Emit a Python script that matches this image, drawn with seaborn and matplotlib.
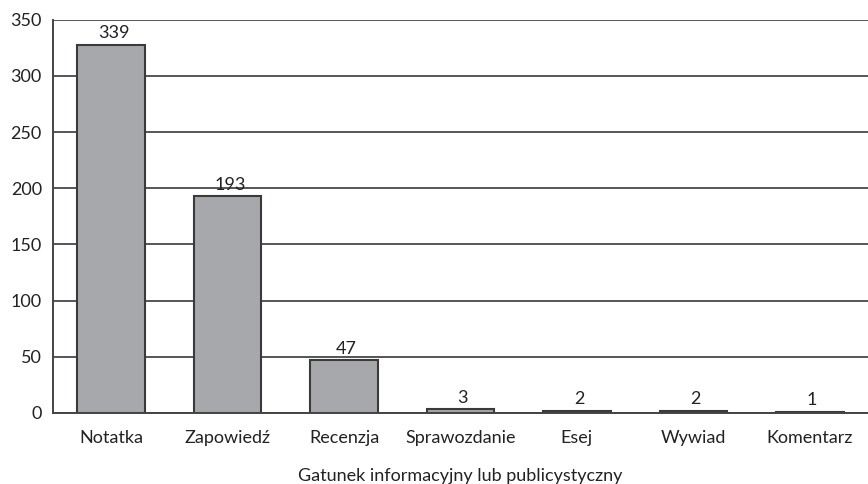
import matplotlib
matplotlib.use("Agg")
import matplotlib.pyplot as plt
import seaborn as sns
import pandas as pd

categories = ["Notatka", "Zapowiedź", "Recenzja", "Sprawozdanie", "Esej", "Wywiad", "Komentarz"]
heights = [328, 193, 47, 3, 2, 2, 1]
labels = ["339", "193", "47", "3", "2", "2", "1"]
y_ticks = [0, 50, 100, 150, 200, 250, 300, 350]

df = pd.DataFrame({"gatunek": categories, "liczba": heights})

sns.set_style("white")
plt.rcParams["font.family"] = ["Lato", "DejaVu Sans"]
fs = 13

fig = plt.figure(figsize=(8.68, 4.84), dpi=100)
ax = fig.add_axes([0.061, 0.147, 0.939, 0.812])

ax.set_axisbelow(True)
ax.yaxis.grid(True, color="#555555", linewidth=1.4)
sns.barplot(data=df, x="gatunek", y="liczba", color="#a7a8ab", saturation=1,
            edgecolor="#3a3a3a", linewidth=1.5, width=0.58, ax=ax)

for i, (h, t) in enumerate(zip(heights, labels)):
    ax.text(i + 0.02, h + 3, t, ha="center", va="bottom", fontsize=fs, color="#222222")

ax.set_ylim(0, 350)
ax.set_xlim(-0.5, 6.5)
ax.set_yticks(y_ticks)
ax.set_xticks(range(len(categories)))
ax.set_xticklabels(categories)
ax.set_xticks([i - 0.5 for i in range(len(categories))], minor=True)
ax.tick_params(axis="x", which="major", length=0, pad=12, labelsize=fs, colors="#222222")
ax.tick_params(axis="x", which="minor", length=6, width=1.4, color="#444444", direction="out")
ax.tick_params(axis="y", length=6, width=1.4, color="#444444", direction="out", labelsize=fs,
               labelcolor="#222222", pad=2)

ax.set_xlabel("Gatunek informacyjny lub publicystyczny", fontsize=fs, color="#222222", labelpad=16)
ax.set_ylabel("")

for s in ["top", "right"]:
    ax.spines[s].set_visible(False)
for s in ["left", "bottom"]:
    ax.spines[s].set_color("#444444")
    ax.spines[s].set_linewidth(1.4)

fig.savefig("out.png", dpi=100)
